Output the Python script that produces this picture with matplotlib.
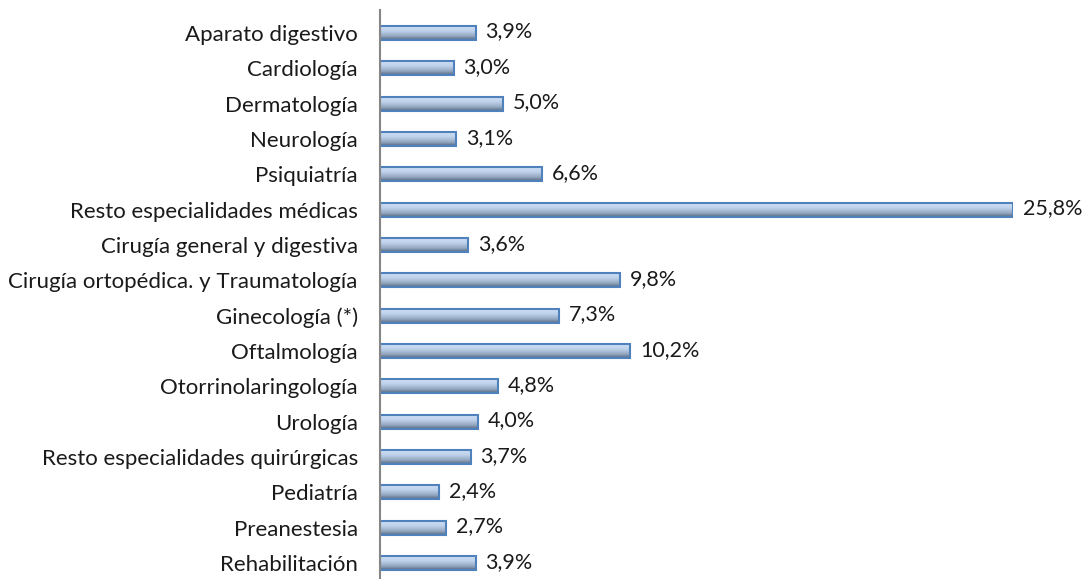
import numpy as np
import matplotlib
matplotlib.use("Agg")
import matplotlib.pyplot as plt
from matplotlib.colors import LinearSegmentedColormap

categories = [
    "Aparato digestivo", "Cardiología", "Dermatología", "Neurología", "Psiquiatría",
    "Resto especialidades médicas", "Cirugía general y digestiva",
    "Cirugía ortopédica. y Traumatología", "Ginecología (*)", "Oftalmología",
    "Otorrinolaringología", "Urología", "Resto especialidades quirúrgicas",
    "Pediatría", "Preanestesia", "Rehabilitación",
]
values = [3.9, 3.0, 5.0, 3.1, 6.6, 25.8, 3.6, 9.8, 7.3, 10.2, 4.8, 4.0, 3.7, 2.4, 2.7, 3.9]
labels = [f"{v:.1f}%".replace(".", ",") for v in values]

plt.rcParams['font.family'] = ['Lato', 'DejaVu Sans']

fig = plt.figure(figsize=(10.82, 5.79), dpi=100)
ax = fig.add_axes([380/1082, 0, (1013-380)/1082, (579-10)/579])

y = np.arange(len(categories))
bars = ax.barh(y, values, height=0.4, facecolor='none', edgecolor='#4f81bd',
               linewidth=1.5, zorder=3)

cmap = LinearSegmentedColormap.from_list(
    "grad", [(0.0, '#d3e3f7'), (0.4, '#bdd1ea'), (0.75, '#93a6bf'), (1.0, '#56697f')])
grad = np.linspace(0, 1, 64).reshape(-1, 1)
for b in bars:
    x0, y0, w, h = b.get_x(), b.get_y(), b.get_width(), b.get_height()
    ax.imshow(grad, cmap=cmap, aspect='auto', extent=[x0, x0 + w, y0 + h, y0],
              zorder=2, interpolation='bilinear')

for b, lab in zip(bars, labels):
    ax.annotate(lab, (b.get_width(), b.get_y() + b.get_height() / 2),
                xytext=(7, 1), textcoords='offset points',
                va='center', ha='left', fontsize=15.5, color='#1a1a1a',
                annotation_clip=False)

ax.set_xlim(0, 25.8)
ax.set_ylim(15.45, -0.65)
ax.set_yticks(y)
ax.set_yticklabels(categories, fontsize=16, color='#1a1a1a')
ax.tick_params(axis='y', length=0, pad=16)
ax.set_xticks([])
for s in ['top', 'right', 'bottom']:
    ax.spines[s].set_visible(False)
ax.spines['left'].set_color('#868686')
ax.spines['left'].set_linewidth(1.5)
ax.spines['left'].set_zorder(4)

fig.savefig("out.png", dpi=100)
